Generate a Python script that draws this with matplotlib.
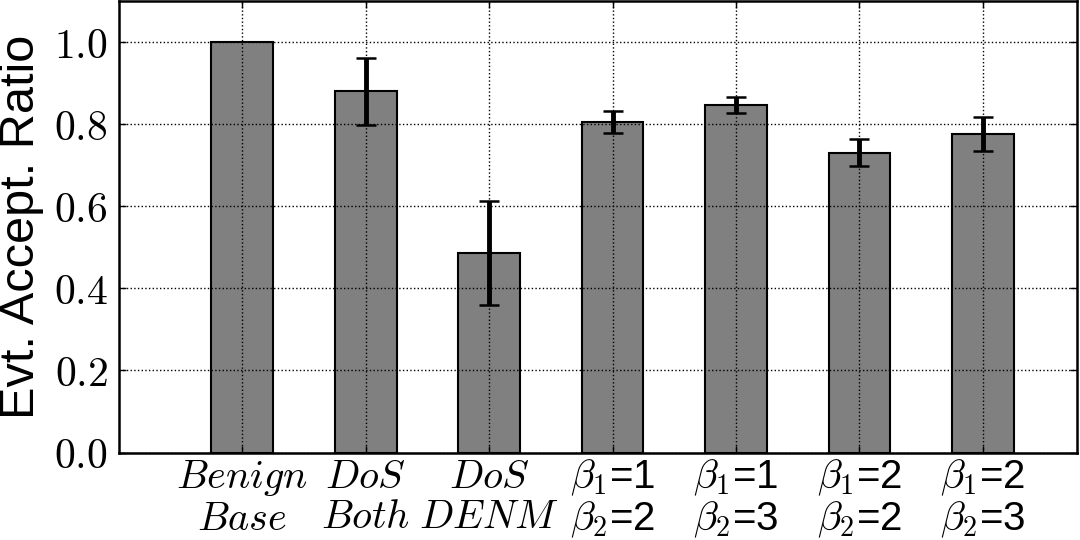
import matplotlib
matplotlib.use("Agg")
import matplotlib.pyplot as plt
import numpy as np

plt.rcParams['mathtext.fontset'] = 'cm'
plt.rcParams['font.family'] = ['Liberation Sans', 'DejaVu Sans']

# Data
labels = [r"$Benign$" "\n" r"$Base$",
          r"$DoS$" "\n" r"$Both$",
          r"$DoS$" "\n" r"$DENM$",
          r"$\beta_1$=1" "\n" r"$\beta_2$=2",
          r"$\beta_1$=1" "\n" r"$\beta_2$=3",
          r"$\beta_1$=2" "\n" r"$\beta_2$=2",
          r"$\beta_1$=2" "\n" r"$\beta_2$=3"]
ratio = [1.0, 0.880, 0.486, 0.806, 0.847, 0.731, 0.776]
err = [0.0, 0.082, 0.126, 0.027, 0.020, 0.033, 0.042]
yticks = [0.0, 0.2, 0.4, 0.6, 0.8, 1.0]

fig = plt.figure(figsize=(10.8, 5.4), dpi=100)
ax = fig.add_axes([0.110, 0.162, 0.887, 0.836])

x = np.arange(1, len(ratio) + 1)
ax.bar(x, ratio, width=0.5, color="#808080", edgecolor="black", linewidth=1.5, zorder=1)
ax.errorbar(x[1:], ratio[1:], yerr=err[1:], fmt="none", ecolor="black",
            elinewidth=3.5, capsize=7, capthick=1.8, zorder=3)

ax.set_xlim(0, 7.76)
ax.set_ylim(0, 1.1)
ax.set_xticks(x)
ax.set_xticklabels(labels, fontsize=29, linespacing=1.05)
ax.set_yticks(yticks)
ax.set_yticklabels([f"${v:.1f}$" for v in yticks], fontsize=30)
ax.set_ylabel("Evt. Accept. Ratio", fontsize=35, labelpad=7)

ax.grid(True, color="black", linestyle=":", linewidth=1.0, zorder=2)
ax.set_axisbelow(False)
ax.tick_params(direction="in", top=True, right=True, length=5, width=1.0)
ax.tick_params(axis="x", pad=4)
ax.tick_params(axis="y", pad=8)
for s in ax.spines.values():
    s.set_linewidth(1.8)

fig.savefig("out.png", dpi=100)
